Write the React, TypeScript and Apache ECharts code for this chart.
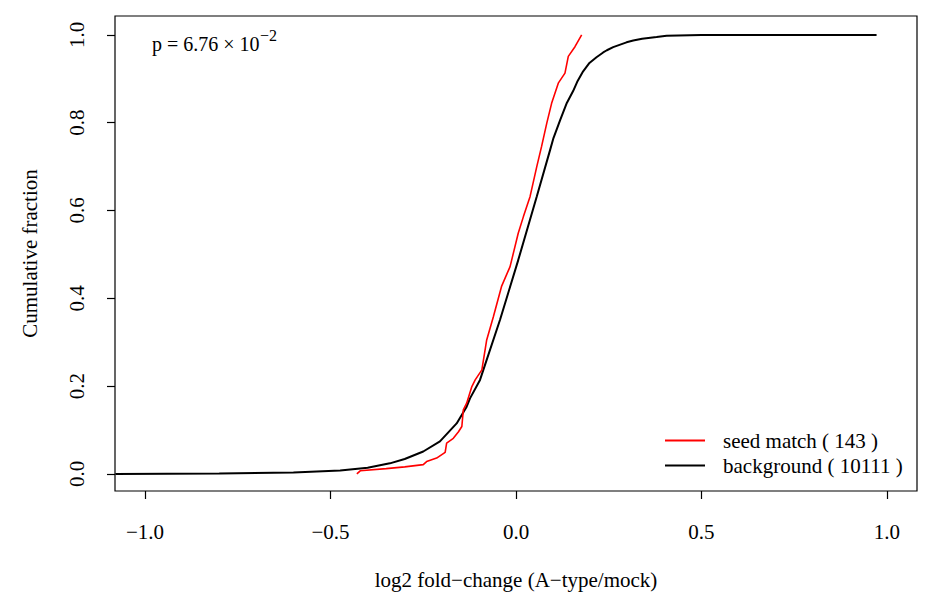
import React, { useEffect, useRef } from "react";
import * as echarts from "echarts";

const bgX = [-1.08, -0.8, -0.6, -0.474, -0.4, -0.34, -0.3, -0.25, -0.205, -0.16, -0.133, -0.124, -0.097, -0.088, -0.043, 0.006, 0.056, 0.092, 0.101, 0.119, 0.137, 0.154, 0.165, 0.181, 0.198, 0.217, 0.235, 0.245, 0.262, 0.298, 0.316, 0.34, 0.379, 0.406, 0.5, 0.972];
const bgY = [0, 0.001, 0.003, 0.0075, 0.014, 0.024, 0.034, 0.051, 0.074, 0.115, 0.153, 0.172, 0.214, 0.237, 0.351, 0.487, 0.632, 0.738, 0.765, 0.806, 0.845, 0.872, 0.893, 0.917, 0.936, 0.949, 0.96, 0.965, 0.972, 0.983, 0.987, 0.991, 0.995, 0.998, 0.9995, 1.0];

const seedX = [-0.429, -0.42, -0.35, -0.3, -0.25, -0.241, -0.214, -0.191, -0.187, -0.169, -0.155, -0.146, -0.142, -0.133, -0.119, -0.11, -0.092, -0.079, -0.061, -0.039, -0.016, 0.006, 0.02, 0.038, 0.056, 0.069, 0.083, 0.096, 0.114, 0.132, 0.141, 0.159, 0.177];
const seedY = [0, 0.007, 0.012, 0.016, 0.021, 0.028, 0.036, 0.049, 0.07, 0.081, 0.096, 0.108, 0.146, 0.161, 0.199, 0.214, 0.237, 0.305, 0.358, 0.427, 0.472, 0.548, 0.586, 0.632, 0.7, 0.746, 0.799, 0.844, 0.89, 0.913, 0.951, 0.973, 1.0];

const xTicks = [-1.0, -0.5, 0.0, 0.5, 1.0];
const yTicks = [0, 0.2, 0.4, 0.6, 0.8, 1.0];

const seedName = "seed match ( 143 )";
const bgName = "background ( 10111 )";
const pLabel = "p = 6.76 × 10";
const pExp = "−2";

const FONT = "Liberation Serif";
const FS = 21;

function fmt(v: number) {
  return v.toFixed(1).replace("-", "−");
}

export default function App() {
  const ref = useRef<HTMLDivElement>(null);
  useEffect(() => {
    if (!ref.current) return;
    const chart = echarts.init(ref.current, undefined, { renderer: "svg" });
    chart.setOption({
      animation: false,
      backgroundColor: "#fff",
      textStyle: { fontFamily: FONT, color: "#000" },
      grid: {
        left: 115,
        right: 11,
        top: 16,
        bottom: 105,
        show: true,
        borderColor: "#000",
        borderWidth: 1.2,
        containLabel: false,
      },
      legend: {
        orient: "vertical",
        left: 665,
        top: 430,
        padding: 0,
        icon: "rect",
        itemWidth: 40,
        itemHeight: 2,
        itemGap: 4,
        selectedMode: false,
        textStyle: { fontFamily: FONT, fontSize: FS, color: "#000", lineHeight: 21, padding: [0, 0, 0, 13] },
        data: [seedName, bgName],
      },
      xAxis: {
        type: "value",
        min: -1.081,
        max: 1.081,
        name: "log2 fold−change (A−type/mock)",
        nameLocation: "middle",
        nameGap: 78,
        nameTextStyle: { fontFamily: FONT, fontSize: FS, color: "#000", verticalAlign: "top" },
        axisLine: { show: false, onZero: false },
        splitLine: { show: false },
        axisTick: { show: true, inside: false, length: 8, customValues: xTicks, lineStyle: { color: "#000", width: 1.2 } },
        axisLabel: {
          customValues: xTicks,
          margin: 30,
          fontFamily: FONT,
          fontSize: FS,
          color: "#000",
          formatter: (v: number) => fmt(v),
        },
      },
      yAxis: {
        type: "value",
        min: -0.039,
        max: 1.043,
        name: "Cumulative fraction",
        nameLocation: "middle",
        nameGap: 74.5,
        nameRotate: 90,
        nameTextStyle: { fontFamily: FONT, fontSize: FS, color: "#000", verticalAlign: "bottom" },
        axisLine: { show: false, onZero: false },
        splitLine: { show: false },
        axisTick: { show: true, inside: false, length: 8, customValues: yTicks, lineStyle: { color: "#000", width: 1.2 } },
        axisLabel: {
          customValues: yTicks,
          rotate: 90,
          margin: 28,
          fontFamily: FONT,
          fontSize: FS,
          color: "#000",
          formatter: (v: number) => fmt(v),
        },
      },
      series: [
        {
          name: bgName,
          type: "line",
          symbol: "none",
          smooth: false,
          color: "#000",
          lineStyle: { color: "#000", width: 2 },
          data: bgX.map((x, i) => [x, bgY[i]]),
          z: 2,
        },
        {
          name: seedName,
          type: "line",
          symbol: "none",
          color: "#ff0000",
          lineStyle: { color: "#ff0000", width: 1.6 },
          data: seedX.map((x, i) => [x, seedY[i]]),
          z: 3,
        },
      ],
      graphic: [
        {
          type: "text",
          left: 152,
          top: 34,
          style: { text: pLabel, fontFamily: FONT, fontSize: 20, fill: "#000" },
        },
        {
          type: "text",
          left: 260,
          top: 27.5,
          style: { text: pExp, fontFamily: FONT, fontSize: 16, fill: "#000" },
        },
      ],
    });
    return () => chart.dispose();
  }, []);
  return <div ref={ref} style={{ width: 928, height: 596, position: "fixed", left: 0, top: 0 }} />;
}
